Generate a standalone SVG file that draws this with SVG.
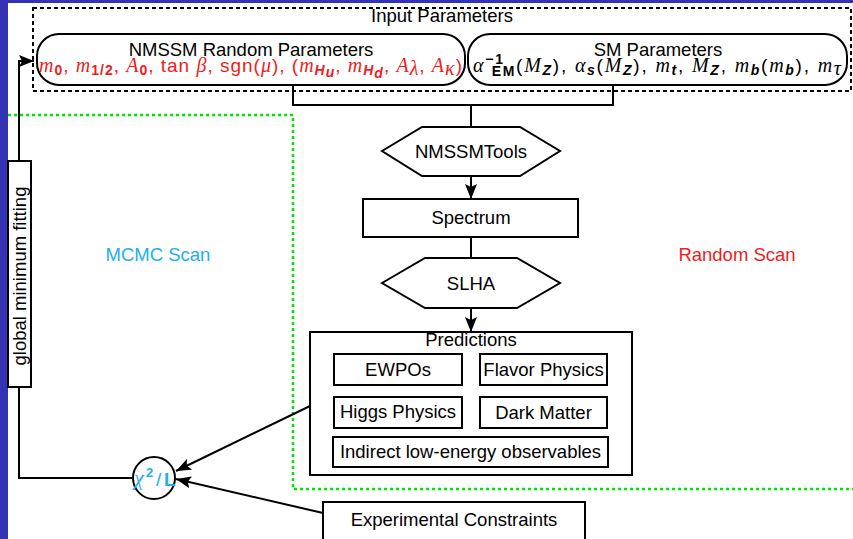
<svg xmlns="http://www.w3.org/2000/svg" width="853" height="539" viewBox="0 0 853 539">
<style>
.t{font-family:"Liberation Sans",Arial,sans-serif;font-size:18.5px;fill:#000;text-anchor:middle}
.mt{font-family:"Liberation Sans",Arial,sans-serif;font-size:19px}
.m{font-family:"Liberation Serif","Times New Roman",serif;font-style:italic;font-size:20px}
.sb{font-family:"Liberation Sans",Arial,sans-serif;font-weight:bold;font-size:14px}
.si{font-style:italic}
.box{fill:#fff;stroke:#000;stroke-width:2}
.ln{fill:none;stroke:#000;stroke-width:2}
.red{fill:#f21b1b}
.cy{fill:#22aef0}
</style>
<defs>
<marker id="ah" markerUnits="userSpaceOnUse" markerWidth="16" markerHeight="12" refX="15" refY="6" orient="auto">
<path d="M0,0 L15,6 L0,12 L3,6 Z" fill="#000"/>
</marker>
</defs>
<rect x="0" y="0" width="853" height="539" fill="#fff"/>
<rect x="0" y="0" width="853" height="3" fill="#3333b3"/>
<rect x="0" y="0" width="8" height="539" fill="#3333b3"/>

<g id="scan-regions">
<path d="M8,115 H293 V489 H853" fill="none" stroke="#00e600" stroke-width="2.5" stroke-dasharray="3,3"/>
<text class="t cy" x="158" y="261">MCMC Scan</text>
<text class="t red" x="737" y="261">Random Scan</text>
</g>

<g id="input-parameters">
<rect x="33" y="8" width="818" height="83" fill="none" stroke="#000" stroke-width="2" stroke-dasharray="4,3"/>
<text class="t" x="442" y="22">Input Parameters</text>
</g>

<g id="nmssm-params">
<rect class="box" x="37" y="34" width="428" height="51" rx="22"/>
<text class="t" x="251" y="56">NMSSM Random Parameters</text>
<text class="mt red" x="39" y="72" textLength="423" lengthAdjust="spacing"><tspan class="m">m</tspan><tspan class="sb" dy="3">0</tspan><tspan dy="-3">, </tspan><tspan class="m">m</tspan><tspan class="sb" dy="3">1/2</tspan><tspan dy="-3">, </tspan><tspan class="m">A</tspan><tspan class="sb" dy="3">0</tspan><tspan dy="-3">, tan </tspan><tspan class="m">β</tspan><tspan>, sgn(</tspan><tspan class="m">μ</tspan><tspan>), (</tspan><tspan class="m">m</tspan><tspan class="sb si" dy="3">H</tspan><tspan class="sb si" font-size="11" dy="2">u</tspan><tspan dy="-5">, </tspan><tspan class="m">m</tspan><tspan class="sb si" dy="3">H</tspan><tspan class="sb si" font-size="11" dy="3">d</tspan><tspan dy="-6">, </tspan><tspan class="m">A</tspan><tspan class="m" font-size="14" dy="3">λ</tspan><tspan dy="-3">, </tspan><tspan class="m">A</tspan><tspan class="m" font-size="14" dy="3">κ</tspan><tspan dy="-3">)</tspan></text>
</g>

<g id="sm-params">
<rect class="box" x="468" y="34" width="379" height="51" rx="22"/>
<text class="t" x="658" y="56">SM Parameters</text>
<text class="mt" x="473" y="72" textLength="368" lengthAdjust="spacing"><tspan class="m">α</tspan><tspan class="sb" font-size="12" dy="-8">−1</tspan><tspan class="sb" font-size="13" dx="-13" dy="12">EM</tspan><tspan dy="-4">(</tspan><tspan class="m">M</tspan><tspan class="sb si" dy="3">Z</tspan><tspan dy="-3">), </tspan><tspan class="m">α</tspan><tspan class="sb si" dy="3">s</tspan><tspan dy="-3">(</tspan><tspan class="m">M</tspan><tspan class="sb si" dy="3">Z</tspan><tspan dy="-3">), </tspan><tspan class="m">m</tspan><tspan class="sb si" dy="3">t</tspan><tspan dy="-3">, </tspan><tspan class="m">M</tspan><tspan class="sb si" dy="3">Z</tspan><tspan dy="-3">, </tspan><tspan class="m">m</tspan><tspan class="sb si" dy="3">b</tspan><tspan dy="-3">(</tspan><tspan class="m">m</tspan><tspan class="sb si" dy="3">b</tspan><tspan dy="-3">), </tspan><tspan class="m">m</tspan><tspan class="m" font-size="14" dy="3">τ</tspan></text>
</g>

<g id="connectors">
<path class="ln" d="M293,85 V105 H613 V85"/>
<path class="ln" d="M471,105 V127"/>
<path class="ln" d="M471,176 V199" marker-end="url(#ah)"/>
<path class="ln" d="M471,237 V258"/>
<path class="ln" d="M471,308 V332" marker-end="url(#ah)"/>
<path class="ln" d="M310,406 L176,471" marker-end="url(#ah)"/>
<path class="ln" d="M323,513 L176,479" marker-end="url(#ah)"/>
<path class="ln" d="M133,478 H19 V387"/>
<path class="ln" d="M19,161 V61 H34" marker-end="url(#ah)"/>
</g>

<g id="nmssmtools">
<polygon class="box" points="382,151 422,127 520,127 560,151 520,176 422,176"/>
<text class="t" x="471" y="158">NMSSMTools</text>
</g>

<g id="spectrum">
<rect class="box" x="363" y="199" width="215" height="38"/>
<text class="t" x="471" y="224">Spectrum</text>
</g>

<g id="slha">
<polygon class="box" points="382,283 425,258 517,258 560,283 517,308 425,308"/>
<text class="t" x="471" y="290">SLHA</text>
</g>

<g id="predictions">
<rect class="box" x="310" y="332" width="322" height="143"/>
<text class="t" x="471" y="346">Predictions</text>
</g>
<g id="ewpos">
<rect class="box" x="334" y="354" width="128" height="31"/>
<text class="t" x="398" y="376">EWPOs</text>
</g>
<g id="flavor">
<rect class="box" x="480" y="354" width="127" height="31"/>
<text class="t" x="543.5" y="376">Flavor Physics</text>
</g>
<g id="higgs">
<rect class="box" x="334" y="397" width="128" height="31"/>
<text class="t" x="398" y="418">Higgs Physics</text>
</g>
<g id="darkmatter">
<rect class="box" x="480" y="397" width="127" height="31"/>
<text class="t" x="543.5" y="419">Dark Matter</text>
</g>
<g id="indirect">
<rect class="box" x="333" y="437" width="275" height="30"/>
<text class="t" x="470.5" y="458">Indirect low-energy observables</text>
</g>

<g id="global-fit">
<rect class="box" x="8" y="161" width="23" height="226"/>
<text class="t" transform="translate(26,276) rotate(-90)" x="0" y="0" font-size="17.5">global minimum fitting</text>
</g>

<g id="chi2">
<circle class="box" cx="154" cy="478" r="21"/>
<text class="cy" font-family="Liberation Sans,Arial,sans-serif" font-size="19"><tspan x="134" y="485" font-family="Liberation Serif,serif" font-style="italic" font-size="22">χ</tspan><tspan x="146" y="477" font-weight="bold" font-size="13">2</tspan><tspan x="156" y="486">/</tspan><tspan x="164" y="486" font-weight="bold">L</tspan></text>
</g>

<g id="experimental">
<rect class="box" x="323" y="502" width="262" height="45"/>
<text class="t" x="454" y="526">Experimental Constraints</text>
</g>
</svg>
